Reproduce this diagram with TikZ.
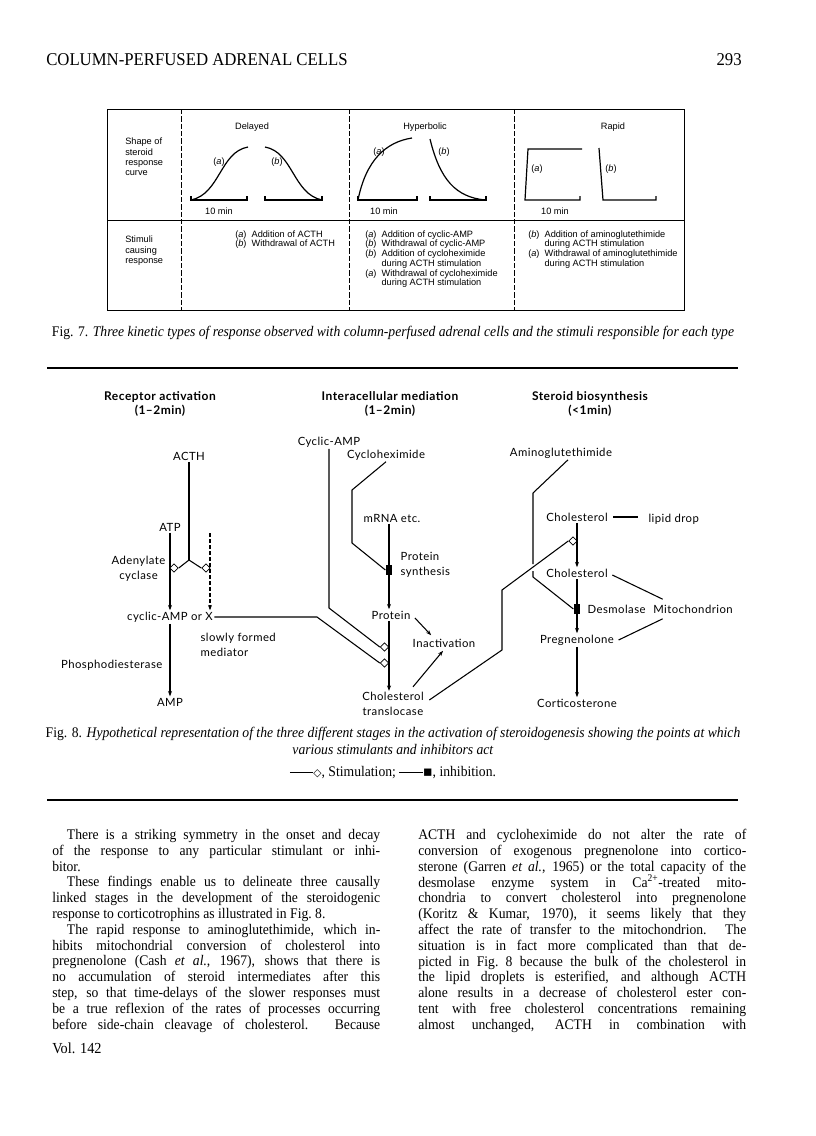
\documentclass[tikz,border=0pt]{standalone}
\usepackage{fontspec}
\setmainfont{Liberation Serif}[FakeStretch=0.93]
\newfontfamily\labelfont{Lato}[LetterSpace=4]
\newfontfamily\tablefont{Liberation Sans}
\newfontfamily\symbolfont{DejaVu Sans}
\usetikzlibrary{shapes.geometric,arrows.meta,calc}

\begin{document}
\begin{tikzpicture}[x=0.75pt, y=-0.75pt,
    lbl/.style={font=\labelfont\fontsize{8.5}{11}\selectfont, inner sep=1pt, align=center},
    head/.style={font=\labelfont\bfseries\fontsize{9}{11}\selectfont, inner sep=0pt, align=center},
    arrow/.style={-{Stealth[length=4pt,width=3pt]}, line width=0.8pt},
    link/.style={line width=0.8pt},
    stim/.style={diamond, draw, fill=white, line width=0.6pt, inner sep=0pt, minimum width=6.5pt, minimum height=6.5pt},
    inhib/.style={rectangle, fill=black, inner sep=0pt, minimum width=5pt, minimum height=7.5pt},
    tbl/.style={font=\tablefont\fontsize{6.9}{7.3}\selectfont, inner sep=0pt},
    curve/.style={line width=0.9pt},
    grid/.style={line width=0.7pt},
    divider/.style={line width=0.7pt, dash pattern=on 4pt off 1.5pt},
    body/.style={font=\fontsize{11}{11.85}\selectfont, text width=246pt, align=justify, inner sep=0pt, anchor=north west},
    caption/.style={font=\fontsize{11}{11.5}\selectfont, inner sep=0pt}
]
\useasboundingbox (0,0) rectangle (816,1136);

% running head
\node[font=\fontsize{13.5}{15}\selectfont, anchor=west, inner sep=0pt] (runhead) at (46,60) {COLUMN-PERFUSED ADRENAL CELLS};
\node[font=\fontsize{13.5}{15}\selectfont, anchor=east, inner sep=0pt] (pageno) at (742,60) {293};

% Fig. 7 table
\draw[grid] (107,109) rectangle (684,310);
\draw[grid] (107,220) -- (684,220);
\foreach \x in {181,349,514}
    \draw[divider] (\x,109) -- (\x,310);

\node[tbl, font=\tablefont\fontsize{6.9}{7.6}\selectfont, anchor=north west, align=left] (shape) at (125,138) {Shape of\\steroid\\response\\curve};
\node[tbl, font=\tablefont\fontsize{6.9}{7.6}\selectfont, anchor=north west, align=left] (stimuli) at (125,236) {Stimuli\\causing\\response};
\node[tbl] (delayed) at (252,127) {Delayed};
\node[tbl] (hyper) at (425,127) {Hyperbolic};
\node[tbl] (rapid) at (613,127) {Rapid};

% delayed
\draw[curve] (191,196) -- (191,200) -- (247,200) -- (247,196);
\draw[curve] (191,200) .. controls (220,194) and (220,152) .. (248,147);
\draw[curve] (265,196) -- (265,200) -- (322,200) -- (322,196);
\draw[curve] (265,147) .. controls (293,152) and (293,194) .. (322,200);
\node[tbl] (da) at (219,162) {(\textit{a})};
\node[tbl] (db) at (277,162) {(\textit{b})};
\node[tbl] (dmin) at (219,211) {10 min};

% hyperbolic
\draw[curve] (358,196) -- (358,200) -- (417,200) -- (417,196);
\draw[curve] (358,200) .. controls (366,160) and (386,142) .. (412,138);
\draw[curve] (430,196) -- (430,200) -- (486,200) -- (486,196);
\draw[curve] (430,139) .. controls (440,180) and (456,197) .. (485,200);
\node[tbl] (ha) at (379,152) {(\textit{a})};
\node[tbl] (hb) at (444,152) {(\textit{b})};
\node[tbl] (hmin) at (384,211) {10 min};

% rapid
\draw[curve] (582,149) -- (528,149) -- (525,200) -- (580,200) -- (580,196);
\draw[curve] (599,148) -- (603,200) -- (656,200) -- (656,196);
\node[tbl] (ra) at (537,169) {(\textit{a})};
\node[tbl] (rb) at (611,169) {(\textit{b})};
\node[tbl] (rmin) at (555,211) {10 min};

\node[tbl, anchor=north west] (dlist) at (235,230) {\begin{tabular}{@{}l@{\ \ }l@{}}
(\textit{a}) & Addition of ACTH\\
(\textit{b}) & Withdrawal of ACTH
\end{tabular}};
\node[tbl, anchor=north west] (hlist) at (365,230) {\begin{tabular}{@{}l@{\ \ }l@{}}
(\textit{a}) & Addition of cyclic-AMP\\
(\textit{b}) & Withdrawal of cyclic-AMP\\
(\textit{b}) & Addition of cycloheximide\\
 & during ACTH stimulation\\
(\textit{a}) & Withdrawal of cycloheximide\\
 & during ACTH stimulation
\end{tabular}};
\node[tbl, anchor=north west] (rlist) at (528,230) {\begin{tabular}{@{}l@{\ \ }l@{}}
(\textit{b}) & Addition of aminoglutethimide\\
 & during ACTH stimulation\\
(\textit{a}) & Withdrawal of aminoglutethimide\\
 & during ACTH stimulation
\end{tabular}};

\node[caption] (cap7) at (393,333) {Fig. 7. \textit{Three kinetic types of response observed with column-perfused adrenal cells and the stimuli responsible for each type}};
\draw[line width=1.1pt] (47,368) -- (738,368);

% Fig. 8 headings
\node[head] (hrec) at (160,404) {Receptor activation\\(1–2min)};
\node[head] (hint) at (390,404) {Interacellular mediation\\(1–2min)};
\node[head] (hster) at (590,404) {Steroid biosynthesis\\(<1min)};

% receptor activation
\node[lbl] (acth) at (189,456) {ACTH};
\node[lbl] (atp) at (170,527) {ATP};
\node[lbl, anchor=east] (adcyc) at (167,569) {Adenylate\\cyclase};
\node[lbl] (camp) at (170,617) {cyclic-AMP or X};
\node[lbl, anchor=east] (pde) at (164,665) {Phosphodiesterase};
\node[lbl] (amp) at (170,702) {AMP};
\node[lbl, anchor=west, align=left] (slow) at (199,645) {slowly formed\\mediator};
\coordinate (xtop) at (210,533);
\coordinate (fork) at (189,560);

\draw[arrow] (atp) -- (atp |- camp.north);
\draw[arrow, dash pattern=on 3pt off 1.5pt] (xtop) -- (xtop |- camp.north);
\draw[arrow] (camp) -- (amp);
\draw[link] (acth) -- (fork);
\node[stim] (sa) at (174,568) {};
\node[stim] (sb) at (206,568) {};
\draw[link] (fork) -- (sa.east);
\draw[link] (fork) -- (sb.west);

% intracellular mediation
\node[lbl] (campin) at (329,442) {Cyclic-AMP};
\node[lbl] (chx) at (386,455) {Cycloheximide};
\node[lbl] (mrna) at (392,518) {mRNA etc.};
\node[inhib] (ia) at (389,570) {};
\node[lbl, anchor=west, align=left] (psyn) at (399,565) {Protein\\synthesis};
\node[lbl] (prot) at (391,615) {Protein};
\node[lbl] (inact) at (444,643) {Inactivation};
\node[lbl] (transl) at (393,704) {Cholesterol\\translocase};
\node[stim] (sc) at (384.5,647) {};
\node[stim] (sd) at (384.5,663) {};

\draw[link] (chx.south) -- (352,490) -- (352,543) -- (ia.west);
\draw[arrow] (ia |- mrna.south) -- (ia |- prot.north);
\draw[arrow] (ia |- prot.south) -- (ia |- transl.north);
\draw[link] (campin) -- (329,608) -- (sc.west);
\draw[link] (camp.east) -- (317,617) -- (sd.west);
\draw[arrow] ($(prot.east)+(3,3)$) -- ($(inact.north west)+(20,-2)$);
\draw[arrow] ($(transl.north)+(20,-4)$) -- ($(inact.south)+(-1,2)$);

% steroid biosynthesis
\node[lbl] (amino) at (561,453) {Aminoglutethimide};
\node[lbl] (chol1) at (577,517) {Cholesterol};
\node[lbl, anchor=west] (lipid) at (647,519) {lipid drop};
\node[lbl] (chol2) at (577,573) {Cholesterol};
\node[inhib] (ib) at (577,609) {};
\node[lbl, anchor=west] (desm) at (586,609) {Desmolase};
\node[lbl] (mito) at (693,609) {Mitochondrion};
\node[lbl] (preg) at (577,640) {Pregnenolone};
\node[lbl] (cort) at (577,703) {Corticosterone};
\node[stim] (se) at (573,541) {};

\draw[link] ($(transl.east)+(4,-4)$) -- (502,650) -- (502,590) -- (se.west);
\draw[link] ($(amino.south)+(7,0)$) -- (533,493) -- (533,564);
\draw[link] (533,571) -- (533,577) -- (ib.west);
\draw[link] ($(chol1.east)+(4,0)$) -- (638,517);
\draw[arrow] (chol1) -- (chol2);
\draw[arrow] (chol2) -- (preg);
\draw[arrow] (preg) -- (cort);
\draw[link] ($(chol2.east)+(3,2)$) -- ($(mito.north west)+(11,-4)$);
\draw[link] ($(preg.east)+(3,0)$) -- ($(mito.south west)+(11,4)$);

\node[caption] (cap8a) at (393,734) {Fig. 8. \textit{Hypothetical representation of the three different stages in the activation of steroidogenesis showing the points at which}};
\node[caption] (cap8b) at (393,749) {\textit{various stimulants and inhibitors act}};
\node[caption] (legend) at (393,773) {\rule[0.6ex]{1.6em}{0.5pt}{\symbolfont\footnotesize ◇}, Stimulation; \rule[0.6ex]{1.6em}{0.5pt}{\symbolfont ▪}, inhibition.};
\draw[line width=1.1pt] (47,800) -- (738,800);

% body text
\node[body] (leftcol) at (52,829) {\noindent\hspace*{11pt}There is a striking symmetry in the onset and decay\linebreak
of the response to any particular stimulant or inhi-\linebreak
bitor.\par
\noindent\hspace*{11pt}These findings enable us to delineate three causally\linebreak
linked stages in the development of the steroidogenic\linebreak
response to corticotrophins as illustrated in Fig.~8.\par
\noindent\hspace*{11pt}The rapid response to aminoglutethimide, which in-\linebreak
hibits mitochondrial conversion of cholesterol into\linebreak
pregnenolone (Cash \textit{et al.}, 1967), shows that there is\linebreak
no accumulation of steroid intermediates after this\linebreak
step, so that time-delays of the slower responses must\linebreak
be a true reflexion of the rates of processes occurring\linebreak
before side-chain cleavage of cholesterol. Because\parfillskip=0pt\par};
\node[body] (rightcol) at (418,829) {\noindent ACTH and cycloheximide do not alter the rate of\linebreak
conversion of exogenous pregnenolone into cortico-\linebreak
sterone (Garren \textit{et al.}, 1965) or the total capacity of the\linebreak
desmolase enzyme system in Ca\textsuperscript{2+}-treated mito-\linebreak
chondria to convert cholesterol into pregnenolone\linebreak
(Koritz \& Kumar, 1970), it seems likely that they\linebreak
affect the rate of transfer to the mitochondrion. The\linebreak
situation is in fact more complicated than that de-\linebreak
picted in Fig.~8 because the bulk of the cholesterol in\linebreak
the lipid droplets is esterified, and although ACTH\linebreak
alone results in a decrease of cholesterol ester con-\linebreak
tent with free cholesterol concentrations remaining\linebreak
almost unchanged, ACTH in combination with\parfillskip=0pt\par};
\node[font=\fontsize{11.5}{13}\selectfont, anchor=west, inner sep=0pt] (vol) at (52,1048) {Vol. 142};
\end{tikzpicture}
\end{document}
